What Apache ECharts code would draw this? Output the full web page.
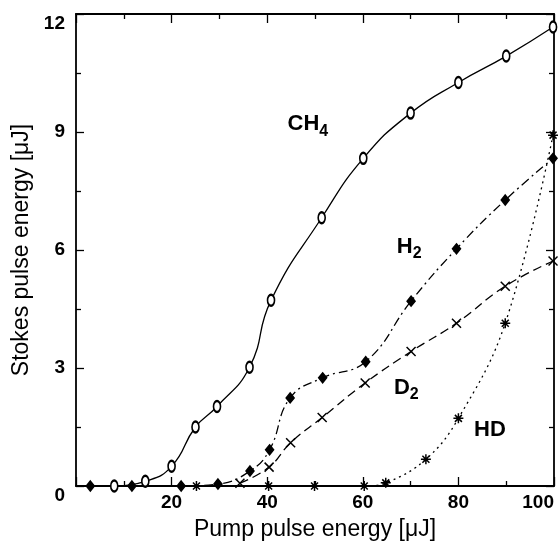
<!DOCTYPE html>
<html><head><meta charset="utf-8">
<script src="https://cdn.jsdelivr.net/npm/echarts@6/dist/echarts.min.js"></script>
<style>html,body{margin:0;padding:0;background:#fff}#c{width:558px;height:548px}</style>
</head><body><div id="c"></div>
<script>
// ---- data ----
const ch4X = [8, 14.5, 20, 25, 29.5, 36.3, 40.8, 51.4, 60.1, 70, 80, 90, 99.8];
const ch4Y = [0, 0.12, 0.5, 1.5, 2.02, 3.02, 4.72, 6.82, 8.33, 9.48, 10.26, 10.93, 11.67];
const h2X = [3, 11.7, 22, 29.7, 36.4, 40.5, 44.8, 51.6, 60.6, 70.1, 79.6, 89.8, 99.8];
const h2Y = [0, 0, 0, 0.05, 0.38, 0.92, 2.24, 2.75, 3.16, 4.7, 6.03, 7.27, 8.33];
const d2X = [34.3, 40.4, 44.9, 51.5, 60.5, 70.1, 79.6, 89.8, 99.8];
const d2Y = [0.07, 0.48, 1.1, 1.74, 2.62, 3.42, 4.14, 5.08, 5.72];
const hdX = [25.2, 40.3, 49.9, 60.3, 64.8, 73.2, 80, 89.8, 99.8];
const hdY = [0, 0, 0, 0, 0.08, 0.68, 1.72, 4.14, 8.92];
const xTickLabels = [20, 40, 60, 80, 100];
const yTickLabels = [0, 3, 6, 9, 12];
const labelMain = ['CH', 'H', 'D', 'HD'];
const labelSub = ['4', '2', '2', ''];
const labelAt = [[48.5, 9.2], [69.7, 6.09], [69.1, 2.5], [86.6, 1.42]];

const FONT = '"Liberation Sans", Arial, Helvetica, sans-serif';
const zip = (xs, ys) => xs.map((x, i) => [x, ys[i]]);

const chart = echarts.init(document.getElementById('c'), null, {renderer: 'canvas'});

const axisLineStyle = {color: '#000', width: 1.8};
function baseX(show) {
  return {
    type: 'value', min: 0, max: 100, interval: 20,
    position: show ? 'bottom' : 'top',
    axisLine: {show: true, onZero: false, lineStyle: axisLineStyle},
    axisTick: {show: true, inside: true, length: 9, lineStyle: {color: '#000', width: 1.3}},
    minorTick: {show: true, splitNumber: 2, length: 5, lineStyle: {color: '#000', width: 1.3}},
    splitLine: {show: false},
    axisLabel: show ? {
      show: true, fontFamily: FONT, fontWeight: 'bold', fontSize: 19, color: '#000',
      margin: 7, showMinLabel: false, alignMaxLabel: 'right',
      formatter: v => xTickLabels.includes(v) ? String(v) : ''
    } : {show: false},
    name: show ? 'Pump pulse energy [\u03bcJ]' : '',
    nameLocation: 'middle', nameGap: 32,
    nameTextStyle: {fontFamily: FONT, fontSize: 23, color: '#000'}
  };
}
function baseY(show) {
  return {
    type: 'value', min: 0, max: 12, interval: 3,
    position: show ? 'left' : 'right',
    axisLine: {show: true, onZero: false, lineStyle: axisLineStyle},
    axisTick: {show: true, inside: true, length: 8, lineStyle: {color: '#000', width: 1.3}},
    minorTick: {show: true, splitNumber: 2, length: 5, lineStyle: {color: '#000', width: 1.3}},
    splitLine: {show: false},
    axisLabel: show ? {
      show: true, fontFamily: FONT, fontWeight: 'bold', fontSize: 19, color: '#000',
      margin: 11, verticalAlignMaxLabel: 'top', verticalAlignMinLabel: 'top',
      formatter: v => yTickLabels.includes(v) ? String(v) : ''
    } : {show: false},
    name: show ? 'Stokes pulse energy [\u03bcJ]' : '',
    nameLocation: 'middle', nameGap: 42, nameRotate: 90,
    nameTextStyle: {fontFamily: FONT, fontSize: 23, color: '#000'}
  };
}

function ser(name, data, symbol, size, dash, smooth) {
  return {
    name, type: 'line', data, xAxisIndex: 0, yAxisIndex: 0,
    smooth, symbol, symbolSize: size, showAllSymbol: true,
    clip: true,
    lineStyle: {color: '#000', width: 1.3, type: dash},
    itemStyle: {color: '#000', borderColor: '#000', borderWidth: 1.5},
    emphasis: {disabled: true}, z: 3
  };
}

const xPath = 'path://M0,0L10,10M10,0L0,10';
const starPath = 'path://M5,0L5,10M0,5L10,5M1.5,1.5L8.5,8.5M8.5,1.5L1.5,8.5';

chart.setOption({
  animation: false,
  backgroundColor: '#fff',
  grid: {left: 76, right: 4, top: 14, bottom: 62, containLabel: false},
  xAxis: [baseX(true), baseX(false)],
  yAxis: [baseY(true), baseY(false)],
  series: [
    ser('CH4', zip(ch4X, ch4Y), 'emptyCircle', [7, 11], 'solid', 0.5),
    ser('H2', zip(h2X, h2Y), 'diamond', [8, 10], [9, 4, 2, 4], 0.45),
    ser('D2', zip(d2X, d2Y), xPath, [9, 9], [9, 5], 0.45),
    ser('HD', zip(hdX, hdY), starPath, [10, 10], [2, 4], 0.4)
  ]
});

const graphics = labelAt.map((p, i) => {
  const px = chart.convertToPixel({gridIndex: 0}, p);
  const txt = labelSub[i] ? '{m|' + labelMain[i] + '}{s|' + labelSub[i] + '}' : '{m|' + labelMain[i] + '}';
  return {
    type: 'text', x: px[0], y: px[1], z: 10,
    style: {
      text: txt, align: 'center', verticalAlign: 'middle', fill: '#000',
      fontFamily: FONT, fontWeight: 'bold',
      rich: {
        m: {fontFamily: FONT, fontWeight: 'bold', fontSize: 22, lineHeight: 22, verticalAlign: 'top', color: '#000'},
        s: {fontFamily: FONT, fontWeight: 'bold', fontSize: 16, lineHeight: 16, padding: [10, 0, 0, 0], verticalAlign: 'top', color: '#000'}
      }
    }
  };
});
chart.setOption({graphic: graphics});
</script>
</body></html>
